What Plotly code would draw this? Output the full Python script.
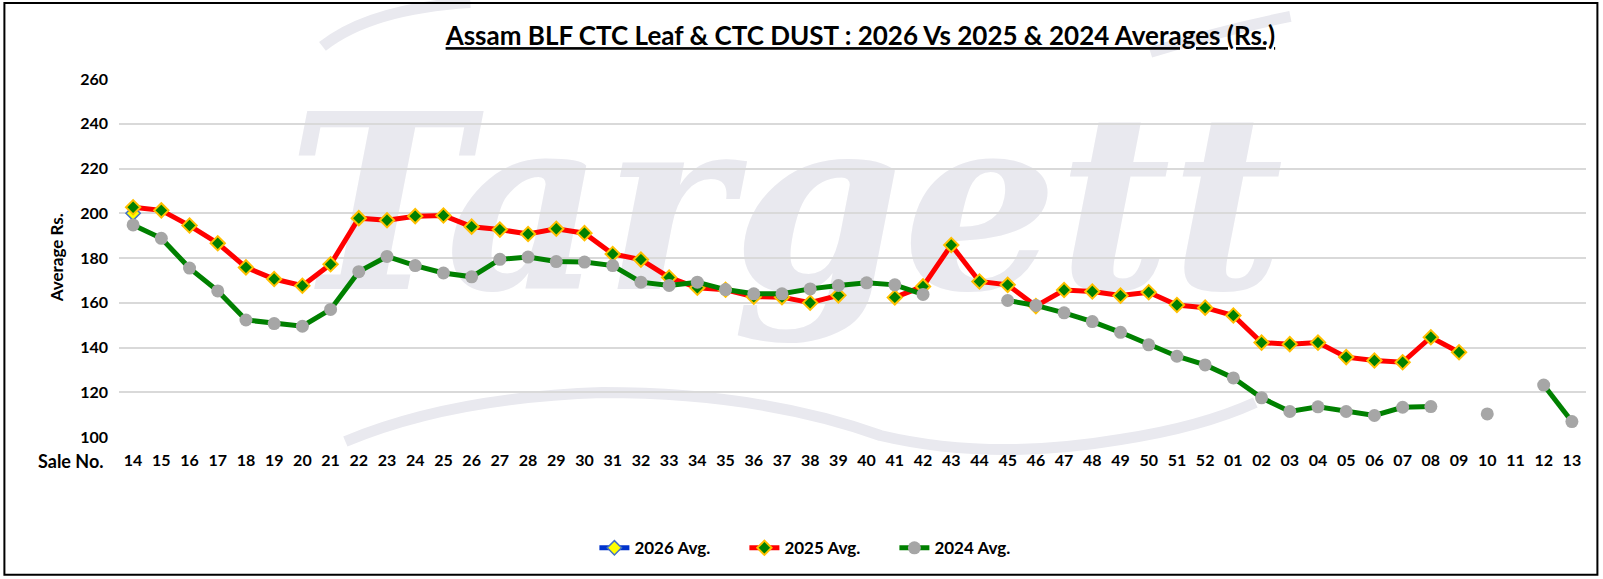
import plotly.graph_objects as go

sale_no = [str(n) for n in range(14, 53)] + [f"{n:02d}" for n in range(1, 14)]

avg_2026 = [200.0] + [None] * 51

avg_2025 = [202.7, 201.3, 194.5, 186.6, 175.8, 170.6, 167.6, 177.2, 197.8, 196.9,
             198.7, 199.0, 194.0, 192.7, 190.7, 193.1, 191.1, 181.8, 179.3, 171.3,
             166.7, 165.8, 162.7, 162.5, 160.0, 163.3, None, 162.4, 167.3, 185.8,
             169.5, 168.0, 158.5, 165.7, 165.0, 163.2, 164.7, 159.0, 157.8,
             154.3, 142.2, 141.5, 142.2, 135.7, 134.2, 133.4, 144.6, 137.9, None, None, None, None]

avg_2024 = [194.8, 188.8, 175.5, 165.3, 152.3, 150.7, 149.5, 157.0, 173.9, 180.7,
             176.6, 173.3, 171.6, 179.4, 180.4, 178.4, 178.2, 176.6, 169.2, 167.7,
             169.2, 165.9, 164.0, 164.0, 166.2, 167.7, 168.9, 168.0, 163.7, None,
             None, 161.0, 158.8, 155.5, 151.6, 146.8, 141.2, 136.1, 132.2,
             126.4, 117.5, 111.4, 113.5, 111.4, 109.6, 113.3, 113.6, None, 110.3, None, 123.2, 106.9]

y_ticks = [100, 120, 140, 160, 180, 200, 220, 240, 260]

W, H = 1603, 579
L, R, T, B = 118.6, 1585.6, 78.7, 437.5


def px(x):
    return (x - L) / (R - L)


def py(y):
    return (B - y) / (B - T)


FONT = "Lato"
WM = "#e9e9ef"

fig = go.Figure()

fig.add_trace(go.Scatter(
    x=sale_no, y=avg_2026, name="2026 Avg.", mode="lines+markers",
    line=dict(color="#0033cc", width=5),
    marker=dict(symbol="diamond", size=11, color="#ffff00",
                line=dict(color="#4472c4", width=1.5)),
    connectgaps=False))

fig.add_trace(go.Scatter(
    x=sale_no, y=avg_2025, name="2025 Avg.", mode="lines+markers",
    line=dict(color="#ff0000", width=5),
    marker=dict(symbol="diamond", size=11, color="#008000",
                line=dict(color="#ffc000", width=2)),
    connectgaps=False))

fig.add_trace(go.Scatter(
    x=sale_no, y=avg_2024, name="2024 Avg.", mode="lines+markers",
    line=dict(color="#008000", width=5),
    marker=dict(symbol="circle", size=13, color="#a6a6a6"),
    connectgaps=False))

fig.update_layout(
    width=W, height=H,
    margin=dict(l=L, r=W - R, t=T, b=H - B, pad=0),
    paper_bgcolor="white", plot_bgcolor="rgba(0,0,0,0)",
    font=dict(family=FONT, size=16, color="#000000", weight="bold"),
    title=dict(
        text="Assam BLF CTC Leaf &amp; CTC DUST : 2026 Vs 2025 &amp; 2024 Averages (Rs.)",
        x=px(860), xref="paper", xanchor="center",
        y=1 - 36 / H, yref="container", yanchor="middle",
        font=dict(family=FONT, size=26, color="#000000", weight="bold",
                  lineposition="under")),
    xaxis=dict(type="category", categoryorder="array", categoryarray=sale_no,
               range=[-0.5, len(sale_no) - 0.5], showgrid=False, zeroline=False,
               showline=False, ticks="", ticklabelstandoff=12,
               tickfont=dict(family=FONT, size=16, color="#000000", weight="bold")),
    yaxis=dict(range=[100, 260], tickvals=y_ticks, showgrid=True,
               gridcolor="#d9d9d9", gridwidth=2, zeroline=False, showline=False,
               ticks="", ticklabelstandoff=10,
               tickfont=dict(family=FONT, size=16, color="#000000", weight="bold")),
    legend=dict(orientation="h", x=px(594), y=py(549), xanchor="left",
                yanchor="middle", font=dict(family=FONT, size=17, color="#000000",
                                            weight="bold"),
                bgcolor="rgba(0,0,0,0)", itemwidth=30, entrywidth=105,
                entrywidthmode="pixels", traceorder="normal"),
    showlegend=True,
)

# faint "Targett" watermark, drawn beneath grid and data
fig.add_shape(type="rect", xref="paper", yref="paper",
              x0=px(290), x1=px(1280), y0=py(286), y1=py(90),
              line=dict(width=0), fillcolor="rgba(0,0,0,0)", layer="below",
              label=dict(text="<b><i>Targett</i></b>", textposition="middle center",
                         font=dict(family="DejaVu Serif", size=244, color=WM)))

# faint swooshes of the watermark
def path(points):
    d = "M {:.4f},{:.4f}".format(px(points[0][0]), py(points[0][1]))
    pts = points[1:]
    for i in range(0, len(pts) - 1, 2):
        (cx, cy), (ex, ey) = pts[i], pts[i + 1]
        d += " Q {:.4f},{:.4f} {:.4f},{:.4f}".format(px(cx), py(cy), px(ex), py(ey))
    return d

swooshes = [
    [(345, 442), (450, 398), (602, 393), (760, 393), (880, 436), (990, 462), (1120, 440), (1200, 428), (1255, 403)],
    [(322, 46), (370, 8), (470, 2)],
    [(1150, 52), (1220, 30), (1290, 16)],
]
for pts in swooshes:
    fig.add_shape(type="path", xref="paper", yref="paper", path=path(pts),
                  line=dict(color=WM, width=11), layer="below")

fig.add_annotation(text="Sale No.", x=px(71), y=py(462), xref="paper", yref="paper",
                   xanchor="center", yanchor="middle", showarrow=False,
                   font=dict(family=FONT, size=18, color="#000000", weight="bold"))
fig.add_annotation(text="Average Rs.", x=px(57), y=py(258), xref="paper", yref="paper",
                   xanchor="center", yanchor="middle", showarrow=False, textangle=-90,
                   font=dict(family=FONT, size=17, color="#000000", weight="bold"))

fig.add_shape(type="rect", xref="paper", yref="paper",
              x0=px(4), x1=px(1597), y0=py(575.5), y1=py(2.5),
              line=dict(color="#000000", width=2), fillcolor="rgba(0,0,0,0)",
              layer="above")

fig.write_html("out.html", config={"displayModeBar": False},
               post_script="document.body.style.margin='0';")
